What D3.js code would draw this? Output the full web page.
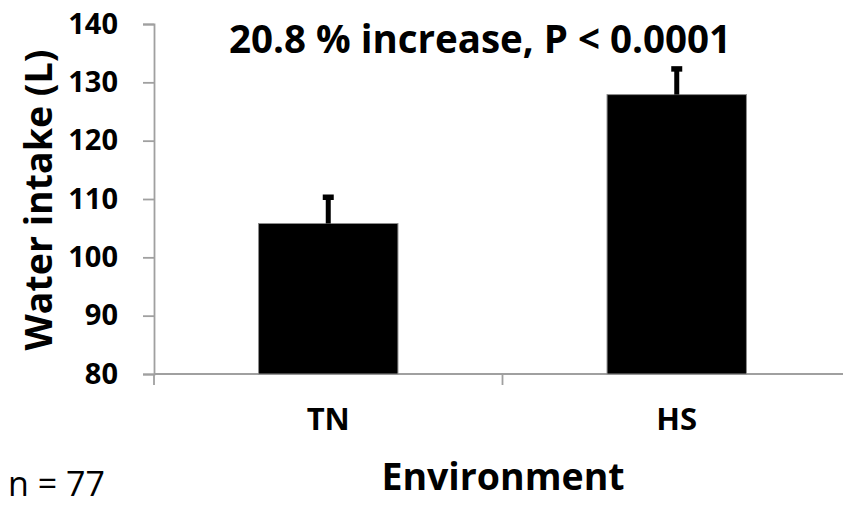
<!DOCTYPE html>
<html>
<head>
<meta charset="utf-8">
<script src="https://cdn.jsdelivr.net/npm/d3@7"></script>
<style>
  html, body { margin: 0; padding: 0; background: #fff; overflow: hidden; }
  svg { display: block; font-family: "Open Sans", "DejaVu Sans", sans-serif; }
</style>
</head>
<body>
<svg id="chart" width="843" height="506"></svg>
<script>
// Water intake by environment (mean ± SE)
const categories = ["TN", "HS"];
const means = [105.8, 127.9];
const errors = [4.5, 4.4];
const yTicks = [80, 90, 100, 110, 120, 130, 140];
const titleText = "20.8 % increase, P < 0.0001";
const yLabel = "Water intake (L)";
const xLabel = "Environment";
const noteText = "n = 77";

const svg = d3.select("#chart");
const axisColor = "#a0a0a0";

const x = d3.scaleBand()
  .domain(categories)
  .range([154, 851])
  .paddingInner(0.6)
  .paddingOuter(0.3);

const y = d3.scaleLinear()
  .domain([80, 140])
  .range([374, 24]);

// Y axis
const yAxis = svg.append("g")
  .attr("transform", "translate(154,0)")
  .call(d3.axisLeft(y).tickValues(yTicks).tickSize(11).tickPadding(25).tickFormat(d3.format("d")));
yAxis.select(".domain").attr("stroke", axisColor).attr("stroke-width", 1.8);
yAxis.selectAll(".tick line").attr("stroke", axisColor).attr("stroke-width", 1.8);
yAxis.selectAll(".tick text")
  .attr("fill", "#000")
  .attr("font-size", 29)
  .attr("font-weight", 700)
  .attr("font-family", "'Open Sans', sans-serif");

// X axis: ticks sit between the categories
const xBoundaries = [x.range()[0], x.range()[0] + x.step(), x.range()[1]];
const xAxisG = svg.append("g");
xAxisG.append("line")
  .attr("x1", 154).attr("x2", x.range()[1])
  .attr("y1", y(80)).attr("y2", y(80))
  .attr("stroke", axisColor).attr("stroke-width", 1.8);
xAxisG.selectAll("line.xtick")
  .data(xBoundaries)
  .join("line")
  .attr("class", "xtick")
  .attr("x1", d => d).attr("x2", d => d)
  .attr("y1", y(80)).attr("y2", y(80) + 11)
  .attr("stroke", axisColor).attr("stroke-width", 1.8);
xAxisG.selectAll("text.xlab")
  .data(categories)
  .join("text")
  .attr("class", "xlab")
  .attr("x", d => x(d) + x.bandwidth() / 2)
  .attr("y", 430)
  .attr("text-anchor", "middle")
  .attr("font-size", 31)
  .attr("font-weight", 700)
  .text(d => d);

// Bars
svg.append("g").selectAll("rect")
  .data(categories)
  .join("rect")
  .attr("x", d => x(d))
  .attr("y", (d, i) => y(means[i]))
  .attr("width", x.bandwidth())
  .attr("height", (d, i) => y(80) - y(means[i]))
  .attr("fill", "#000")
  .attr("stroke", "#8c8c8c")
  .attr("stroke-width", 1);

// Error bars (upper only)
const eb = svg.append("g");
categories.forEach((c, i) => {
  const cx = x(c) + x.bandwidth() / 2;
  eb.append("line")
    .attr("x1", cx).attr("x2", cx)
    .attr("y1", y(means[i])).attr("y2", y(means[i] + errors[i]))
    .attr("stroke", "#000").attr("stroke-width", 5);
  eb.append("line")
    .attr("x1", cx - 5.5).attr("x2", cx + 5.5)
    .attr("y1", y(means[i] + errors[i])).attr("y2", y(means[i] + errors[i]))
    .attr("stroke", "#000").attr("stroke-width", 5.5);
});

// Title
svg.append("text")
  .attr("x", 480).attr("y", 53)
  .attr("text-anchor", "middle")
  .attr("font-size", 38.5)
  .attr("font-weight", 700)
  .text(titleText);

// Axis titles
svg.append("text")
  .attr("transform", "translate(52,200) rotate(-90)")
  .attr("text-anchor", "middle")
  .attr("font-size", 37.5)
  .attr("font-weight", 700)
  .text(yLabel);

svg.append("text")
  .attr("x", 503).attr("y", 490)
  .attr("text-anchor", "middle")
  .attr("font-size", 37.5)
  .attr("font-weight", 700)
  .text(xLabel);

// Sample size note
svg.append("text")
  .attr("x", 8).attr("y", 496)
  .attr("font-size", 34)
  .attr("font-weight", 400)
  .text(noteText);
</script>
</body>
</html>
